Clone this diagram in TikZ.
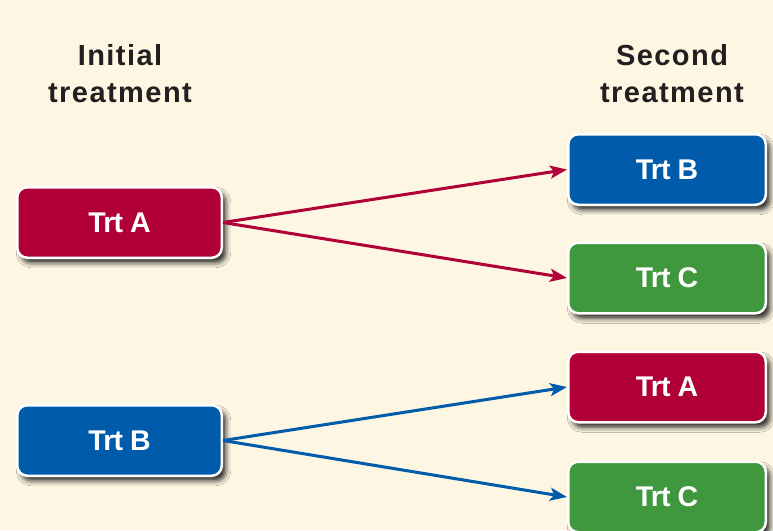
\documentclass[tikz,border=0pt]{standalone}
\usepackage{fontspec}
\setmainfont{Liberation Sans}
\usetikzlibrary{arrows.meta,shadows.blur}
\definecolor{bgcream}{HTML}{FCF6E2}
\definecolor{trtred}{HTML}{B10038}
\definecolor{trtblue}{HTML}{005BAA}
\definecolor{trtgreen}{HTML}{3F983D}
\definecolor{headtext}{HTML}{231F20}
\tikzset{
  trtbox/.style={draw=white, line width=2.5pt, rounded corners=10pt,
    minimum width=204.5pt, minimum height=70.5pt, inner sep=0pt,
    text=white, font=\fontsize{28.5}{28.5}\selectfont\bfseries\addfontfeature{LetterSpace=-3},
    blur shadow={shadow xshift=4pt, shadow yshift=-5pt, shadow blur radius=5pt,
      shadow opacity=85}},
  rbox/.style={trtbox, minimum width=197.5pt},
  heading/.style={align=center, text=headtext, inner sep=0pt,
    font=\fontsize{29}{37}\selectfont\bfseries\addfontfeature{LetterSpace=5}},
  conn/.style={line width=3pt, -{Stealth[length=17pt,width=13pt,inset=4pt]}, shorten >=0pt}
}
\begin{document}
\begin{tikzpicture}[x=1pt,y=-1pt]
\fill[bgcream] (0,0) rectangle (773,530);
\useasboundingbox (0,0) rectangle (773,530);
\node[heading] (h1) at (120,74) {Initial\\treatment};
\node[heading] (h2) at (672,74) {Second\\treatment};
\node[trtbox, fill=trtred] (la) at (119.5,222.5) {Trt A};
\node[trtbox, fill=trtblue] (lb) at (119.5,440.5) {Trt B};
\node[rbox, fill=trtblue] (r1) at (667,169.5) {Trt B};
\node[rbox, fill=trtgreen] (r2) at (667,278) {Trt C};
\node[rbox, fill=trtred] (r3) at (667,387) {Trt A};
\node[rbox, fill=trtgreen] (r4) at (667,497) {Trt C};
\draw[conn, trtred] (la.east) -- (r1.west);
\draw[conn, trtred] (la.east) -- (r2.west);
\draw[conn, trtblue] (lb.east) -- (r3.west);
\draw[conn, trtblue] (lb.east) -- (r4.west);
\end{tikzpicture}
\end{document}
